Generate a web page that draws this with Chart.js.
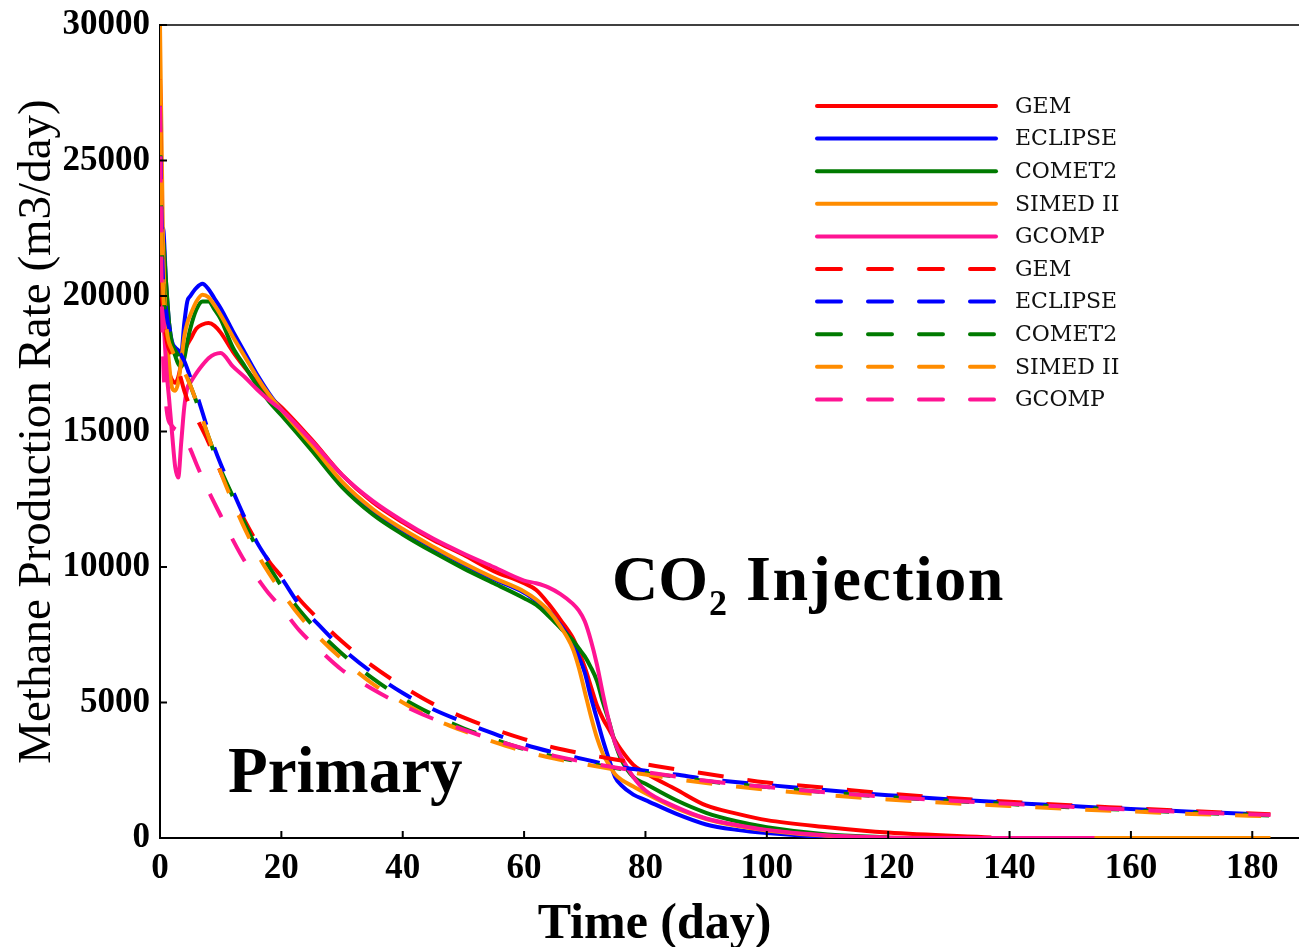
<!DOCTYPE html>
<html>
<head>
<meta charset="utf-8">
<title>Methane Production Rate</title>
<script src="https://cdn.jsdelivr.net/npm/chart.js@4.4.1/dist/chart.umd.min.js"></script>
<style>
	html, body { margin: 0; padding: 0; background: #fff; }
	canvas { display: block; }
</style>
</head>
<body>
<canvas id="graficoMetano" width="1299" height="947"></canvas>
<script>
// dias (injecao de CO2, linhas cheias)
var tempoCO2 = [0, 0.5, 1, 1.5, 2, 2.5, 3, 3.5, 4, 4.5, 5, 6, 7, 8, 9, 10, 12, 14, 16, 18, 20, 25, 30, 35, 40, 45, 50, 55, 60,
	62, 64, 66, 68, 69, 70, 71, 72, 73, 74, 75, 76, 78, 80, 85, 90, 95, 100, 110, 120, 137, 154, 183];

var gemCO2 = [21000, 19500, 18000, 17200, 16900, 16800, 17000, 17500, 17900, 18200, 18400, 18800, 18950, 19000, 18900, 18650, 17950, 17350, 16800, 16300, 15900, 14700, 13400, 12400, 11650, 11000, 10450, 9850, 9400,
	9150, 8650, 8050, 7400, 6900, 6300, 5600, 4900, 4400, 4000, 3600, 3250, 2700, 2400, 1800, 1200, 900, 660, 400, 200, 20, null, null];
var eclipseCO2 = [21000, 22500, 20500, 19000, 18300, 18100, 18000, 17900, 19000, 19800, 20000, 20300, 20450, 20250, 19900, 19550, 18700, 17900, 17100, 16400, 15800, 14450, 13100, 12100, 11350, 10700, 10100, 9550, 9050,
	8750, 8400, 7850, 7200, 6700, 6100, 5200, 4400, 3600, 2900, 2250, 1950, 1600, 1400, 900, 500, 300, 180, 40, 0, null, null, null];
var comet2CO2 = [20000, 22000, 20500, 19000, 18200, 17800, 17500, 17400, 17700, 18300, 18800, 19500, 19800, 19800, 19500, 19150, 18100, 17400, 16700, 16100, 15600, 14300, 12950, 11950, 11200, 10550, 9950, 9400, 8850,
	8600, 8200, 7750, 7300, 7000, 6700, 6300, 5800, 5000, 4300, 3500, 2900, 2250, 2000, 1400, 930, 620, 400, 130, 30, null, null, null];
var simedCO2 = [30000, 22000, 19000, 17500, 16600, 16500, 16800, 17600, 18500, 19000, 19300, 19800, 20050, 19950, 19650, 19300, 18500, 17750, 17000, 16350, 15800, 14500, 13150, 12150, 11400, 10750, 10150, 9600, 9100,
	8800, 8400, 7800, 7000, 6300, 5400, 4500, 3700, 3100, 2700, 2350, 2150, 1900, 1650, 1100, 700, 450, 280, 80, 10, 0, 0, 0];
var gcompCO2 = [26000, 20000, 17500, 16200, 14900, 13700, 13300, 14600, 15900, 16600, 16800, 17150, 17450, 17700, 17850, 17900, 17400, 17000, 16550, 16150, 15800, 14650, 13400, 12450, 11700, 11050, 10500, 10000, 9500,
	9400, 9250, 9000, 8650, 8400, 8000, 7300, 6400, 5300, 4300, 3500, 3000, 2250, 1750, 1150, 720, 480, 300, 90, 20, 0, 0, null];

// dias (producao primaria, linhas tracejadas)
var tempoPrimaria = [0, 0.3, 1, 2, 3, 4, 5, 6, 8, 10, 12, 14, 16, 18, 20, 23, 26, 30, 35, 40, 45, 50, 55, 60, 65, 70, 75, 80, 85, 90,
	100, 110, 120, 130, 140, 150, 160, 170, 183];

var gemPrimaria = [28000, 21000, 18500, 17800, 17300, 16500, 15900, 15500, 14600, 13500, 12600, 11700, 10900, 10200, 9650, 8800, 8100, 7250, 6350, 5600, 4950, 4450, 4020, 3650, 3330, 3100, 2900, 2720, 2540, 2370,
	2050, 1850, 1640, 1480, 1340, 1210, 1100, 990, 880];
var eclipsePrimaria = [27000, 22000, 19500, 18500, 18000, 17600, 17000, 16400, 15000, 13800, 12800, 11800, 10900, 10200, 9600, 8600, 7900, 7000, 6100, 5350, 4750, 4280, 3850, 3450, 3150, 2900, 2650, 2480, 2340, 2180,
	1960, 1760, 1580, 1430, 1300, 1180, 1070, 970, 860];
var comet2Primaria = [26000, 22000, 19000, 18200, 17800, 17300, 16700, 16100, 14800, 13600, 12600, 11600, 10700, 10000, 9300, 8400, 7650, 6800, 5900, 5150, 4550, 4050, 3650, 3280, 3000, 2780, 2580, 2400, 2260, 2100,
	1880, 1680, 1510, 1370, 1250, 1130, 1030, 930, 830];
var simedPrimaria = [28000, 22000, 19000, 18000, 17600, 17200, 16700, 16100, 14800, 13500, 12400, 11400, 10500, 9750, 9100, 8200, 7450, 6600, 5700, 5000, 4400, 3950, 3550, 3200, 2930, 2720, 2520, 2340, 2180, 2030,
	1780, 1580, 1420, 1290, 1180, 1070, 980, 890, 800];
var gcompPrimaria = [27000, 20000, 16000, 15200, 15000, 14800, 14350, 13800, 12800, 11900, 11000, 10200, 9600, 9000, 8500, 7650, 7000, 6200, 5500, 4900, 4400, 4000, 3620, 3300, 3030, 2800, 2600, 2430, 2270, 2110,
	1880, 1680, 1520, 1380, 1260, 1150, 1050, 950, 850];

var simuladores = ['GEM', 'ECLIPSE', 'COMET2', 'SIMED II', 'GCOMP'];
var cores = ['#ff0000', '#0000ff', '#007a00', '#ff8c00', '#ff1493'];

var ticksX = [0, 20, 40, 60, 80, 100, 120, 140, 160, 180];
var ticksY = [0, 5000, 10000, 15000, 20000, 25000, 30000];

var serifa = '"Liberation Serif", "DejaVu Serif", serif';

function pontos(tempos, valores) {
	var lista = [];
	tempos.forEach(function(t, i) {
		if (valores[i] !== null) lista.push({ x: t, y: valores[i] });
	});
	return lista;
}

var seriesCO2 = [gemCO2, eclipseCO2, comet2CO2, simedCO2, gcompCO2];
var seriesPrimaria = [gemPrimaria, eclipsePrimaria, comet2Primaria, simedPrimaria, gcompPrimaria];

var datasets = [];
seriesCO2.forEach(function(valores, i) {
	datasets.push({
		label: simuladores[i],
		data: pontos(tempoCO2, valores),
		borderColor: cores[i],
		borderWidth: 4,
		borderDash: [],
		order: -i
	});
});
seriesPrimaria.forEach(function(valores, i) {
	datasets.push({
		label: simuladores[i],
		data: pontos(tempoPrimaria, valores),
		borderColor: cores[i],
		borderWidth: 4,
		borderDash: [26, 24],
		order: -(i + 5)
	});
});

// moldura superior, marcas internas, legenda e textos
var extras = {
	id: 'extras',
	afterDraw: function(chart) {
		var ctx = chart.ctx;
		var area = chart.chartArea;
		var sx = chart.scales.x;
		var sy = chart.scales.y;
		ctx.save();

		ctx.strokeStyle = '#000';
		ctx.lineWidth = 1.5;
		ctx.beginPath();
		ctx.moveTo(area.left, area.top);
		ctx.lineTo(area.right, area.top);
		ctx.stroke();

		ctx.lineWidth = 2;
		ctx.beginPath();
		ticksX.forEach(function(v) {
			var px = sx.getPixelForValue(v);
			ctx.moveTo(px, area.bottom);
			ctx.lineTo(px, area.bottom - 7);
		});
		ticksY.forEach(function(v) {
			var py = sy.getPixelForValue(v);
			ctx.moveTo(area.left, py);
			ctx.lineTo(area.left + 7, py);
		});
		ctx.stroke();

		// legenda
		ctx.font = '22px "DejaVu Serif", serif';
		ctx.textBaseline = 'middle';
		ctx.textAlign = 'left';
		chart.data.datasets.forEach(function(ds, i) {
			var y = area.top + 81 + i * 32.6;
			ctx.strokeStyle = ds.borderColor;
			ctx.lineWidth = 4;
			ctx.lineCap = 'round';
			ctx.setLineDash(ds.borderDash.length ? [24, 27] : []);
			ctx.beginPath();
			ctx.moveTo(area.left + 657, y);
			ctx.lineTo(area.left + 836, y);
			ctx.stroke();
			ctx.setLineDash([]);
			ctx.fillStyle = '#111';
			ctx.fillText(ds.label, area.left + 855, y + 1);
		});
		ctx.lineCap = 'butt';

		// textos no grafico
		ctx.fillStyle = '#000';
		ctx.textBaseline = 'alphabetic';
		ctx.font = 'bold 65px ' + serifa;
		ctx.fillText('Primary', sx.getPixelForValue(11.2), sy.getPixelForValue(1700));

		var cx = sx.getPixelForValue(74.5);
		var cy = sy.getPixelForValue(8780);
		ctx.font = 'bold 64px ' + serifa;
		ctx.fillText('CO', cx, cy);
		var w = ctx.measureText('CO').width;
		ctx.font = 'bold 36px ' + serifa;
		ctx.fillText('2', cx + w + 1, cy + 15);
		var w2 = ctx.measureText('2').width;
		ctx.font = 'bold 64px ' + serifa;
		ctx.letterSpacing = '1.5px';
		ctx.fillText('Injection', cx + w + w2 + 20, cy);
		ctx.letterSpacing = '0px';

		// titulo do eixo x
		ctx.font = 'bold 50px ' + serifa;
		ctx.textAlign = 'center';
		ctx.fillText('Time (day)', sx.getPixelForValue(81.5), area.bottom + 100);

		ctx.restore();
	}
};

var graficoMetano = new Chart(document.getElementById('graficoMetano').getContext('2d'), {
	type: 'line',
	data: { datasets: datasets },
	options: {
		responsive: false,
		animation: false,
		devicePixelRatio: 1,
		layout: { padding: { top: 25, right: 0, left: 0, bottom: 0 } },
		elements: {
			point: { radius: 0 },
			line: { tension: 0.3, cubicInterpolationMode: 'monotone', fill: false }
		},
		plugins: {
			legend: { display: false },
			tooltip: { enabled: false }
		},
		scales: {
			x: {
				type: 'linear',
				min: 0,
				max: 187.7,
				afterFit: function(s) { s.height = 109; s.paddingRight = 0; },
				afterBuildTicks: function(s) { s.ticks = ticksX.map(function(v) { return { value: v }; }); },
				grid: { display: false, drawTicks: false, tickLength: 0 },
				border: { display: true, color: '#000', width: 2 },
				ticks: {
					padding: 10,
					maxRotation: 0,
					color: '#000',
					font: { family: serifa, size: 35, weight: 'bold' },
					callback: function(v) { return String(v); }
				}
			},
			y: {
				type: 'linear',
				min: 0,
				max: 30000,
				afterFit: function(s) { s.width = 160; s.paddingTop = 0; s.paddingBottom = 0; },
				afterBuildTicks: function(s) { s.ticks = ticksY.map(function(v) { return { value: v }; }); },
				grid: { display: false, drawTicks: false, tickLength: 0 },
				border: { display: true, color: '#000', width: 2 },
				title: {
					display: true,
					text: 'Methane Production Rate (m3/day)',
					color: '#000',
					font: { family: serifa, size: 47, lineHeight: 1 },
					padding: { top: 14, bottom: 0 }
				},
				ticks: {
					padding: 10,
					color: '#000',
					font: { family: serifa, size: 35, weight: 'bold' },
					callback: function(v) { return String(v); }
				}
			}
		}
	},
	plugins: [extras]
});
</script>
</body>
</html>
